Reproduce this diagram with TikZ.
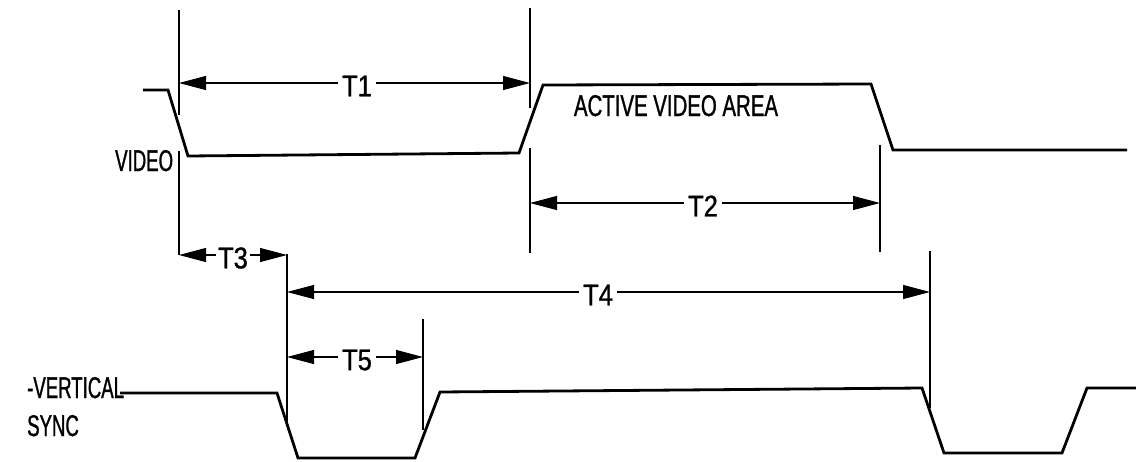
\documentclass[tikz,border=0pt]{standalone}
\usepackage{fontspec}
\setmainfont{Liberation Sans}
\newfontfamily\condfont[FakeStretch=0.62,FakeBold=1]{Liberation Sans}
\newfontfamily\widefont[FakeStretch=0.68,FakeBold=1]{Liberation Sans}
\newfontfamily\tfont[FakeStretch=0.85,FakeBold=1]{Liberation Sans}
\usetikzlibrary{arrows.meta}
\begin{document}
\begin{tikzpicture}[x=1pt,y=-1pt,
  wave/.style={line width=2.8pt,line join=miter,line cap=butt},
  guide/.style={line width=1.3pt},
  dim/.style={line width=1.1pt,{Triangle[length=27pt,width=14pt]}-{Triangle[length=27pt,width=14pt]}},
  tlabel/.style={fill=white,inner sep=4pt,font=\tfont\fontsize{30}{32}\selectfont},
  sig/.style={inner sep=0pt,font=\condfont\fontsize{30}{32}\selectfont}]
\useasboundingbox (0,0) rectangle (1136,461);
% VIDEO waveform
\draw[wave] (143,90) -- (168,90) -- (188,156) -- (519,153) -- (543,85) -- (871,84) -- (893,150) -- (1127,150);
% VERTICAL SYNC waveform
\draw[wave] (120,393) -- (277,393) -- (298,458) -- (415,458) -- (440,392) -- (922,388) -- (944,453) -- (1062,453) -- (1087,388) -- (1136,388);
% guide coordinates
\coordinate (g1a) at (179,10);  \coordinate (g1b) at (179,115);
\coordinate (g1c) at (179,151); \coordinate (g1d) at (179,255);
\coordinate (g2a) at (530,8);   \coordinate (g2b) at (530,108);
\coordinate (g2c) at (530,148); \coordinate (g2d) at (530,253);
\coordinate (g3a) at (880,145); \coordinate (g3b) at (880,252);
\coordinate (g4a) at (287,254); \coordinate (g4b) at (287,424);
\coordinate (g5a) at (423,319); \coordinate (g5b) at (423,430);
\coordinate (g6a) at (930,251); \coordinate (g6b) at (930,408);
\draw[guide] (g1a) -- (g1b);
\draw[guide] (g1c) -- (g1d);
\draw[guide] (g2a) -- (g2b);
\draw[guide] (g2c) -- (g2d);
\draw[guide] (g3a) -- (g3b);
\draw[guide] (g4a) -- (g4b);
\draw[guide] (g5a) -- (g5b);
\draw[guide] (g6a) -- (g6b);
% dimension arrows
\coordinate (t1l) at (179,83);  \coordinate (t1r) at (530,83);
\coordinate (t2l) at (530,203); \coordinate (t2r) at (880,203);
\coordinate (t3l) at (179,255); \coordinate (t3r) at (287,255);
\coordinate (t4l) at (287,292); \coordinate (t4r) at (930,292);
\coordinate (t5l) at (287,357); \coordinate (t5r) at (423,357);
\draw[dim] (t1l) -- (t1r);
\draw[dim] (t2l) -- (t2r);
\draw[dim] (t3l) -- (t3r);
\draw[dim] (t4l) -- (t4r);
\draw[dim] (t5l) -- (t5r);
\node[tlabel] (T1) at (357,86) {T1};
\node[tlabel] (T2) at (703,206) {T2};
\node[tlabel,inner sep=2pt] (T3) at (233,258) {T3};
\node[tlabel] (T4) at (598,295) {T4};
\node[tlabel] (T5) at (357,360) {T5};
% signal labels
\node[sig,anchor=base west] (video) at (115,171) {VIDEO};
\node[sig,anchor=base,font=\widefont\fontsize{30}{32}\selectfont] (active) at (676,116) {ACTIVE VIDEO AREA};
\node[sig,anchor=base west] (vert) at (27,398) {-VERTICAL};
\node[sig,anchor=base west] (sync) at (27,436) {SYNC};
\end{tikzpicture}
\end{document}
